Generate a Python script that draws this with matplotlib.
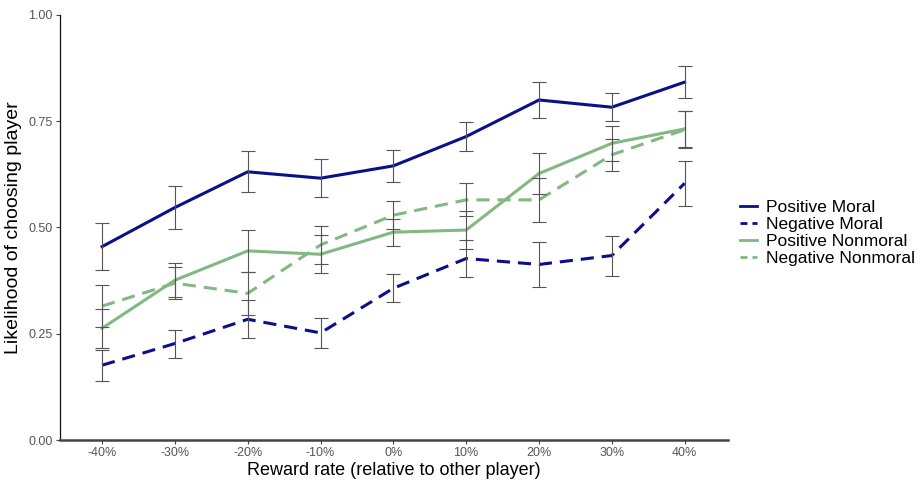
import matplotlib
matplotlib.use("Agg")
import matplotlib.pyplot as plt
from matplotlib.lines import Line2D
import numpy as np

plt.rcParams['font.family'] = ['Liberation Sans', 'DejaVu Sans']

categories = ["-40%", "-30%", "-20%", "-10%", "0%", "10%", "20%", "30%", "40%"]

pos_moral = [0.455, 0.547, 0.631, 0.616, 0.645, 0.714, 0.800, 0.783, 0.842]
pos_moral_err = [0.056, 0.050, 0.048, 0.044, 0.037, 0.035, 0.043, 0.033, 0.038]

neg_moral = [0.176, 0.227, 0.284, 0.252, 0.357, 0.427, 0.413, 0.434, 0.604]
neg_moral_err = [0.036, 0.033, 0.045, 0.035, 0.033, 0.044, 0.054, 0.047, 0.053]

pos_nonmoral = [0.263, 0.376, 0.445, 0.437, 0.489, 0.494, 0.627, 0.698, 0.732]
pos_nonmoral_err = [0.046, 0.040, 0.049, 0.045, 0.032, 0.045, 0.049, 0.041, 0.042]

neg_nonmoral = [0.315, 0.369, 0.345, 0.459, 0.529, 0.565, 0.565, 0.671, 0.730]
neg_nonmoral_err = [0.049, 0.038, 0.050, 0.045, 0.033, 0.039, 0.052, 0.037, 0.043]

series_names = ["Positive Moral", "Negative Moral", "Positive Nonmoral", "Negative Nonmoral"]

navy = "#0a0f8a"
green = "#82b882"
dash = (0, (4.3, 2.6))

fig = plt.figure(figsize=(9.21, 4.83), dpi=100)
ax = fig.add_axes([0.065, 0.089, 0.725, 0.880])

x = np.arange(len(categories))
series = [
    (pos_moral, pos_moral_err, navy, '-'),
    (neg_moral, neg_moral_err, navy, dash),
    (pos_nonmoral, pos_nonmoral_err, green, '-'),
    (neg_nonmoral, neg_nonmoral_err, green, dash),
]
handles = []
for (vals, errs, col, ls), name in zip(series, series_names):
    ax.plot(x, vals, color=col, linestyle=ls, linewidth=2.2, zorder=3)
    ax.errorbar(x, vals, yerr=errs, fmt='none', ecolor='#555555',
                elinewidth=0.8, capsize=5, capthick=0.8, zorder=4)
    handles.append(Line2D([0], [0], color=col,
                          linestyle='-' if ls == '-' else (0, (2.5, 1.8)),
                          linewidth=2.0))

ax.set_xlim(-0.58, 8.59)
ax.set_ylim(0, 1)
ax.set_xticks(x)
ax.set_xticklabels(categories)
ax.set_yticks([0, 0.25, 0.5, 0.75, 1.0])
ax.set_yticklabels(["0.00", "0.25", "0.50", "0.75", "1.00"])
ax.tick_params(axis='both', labelsize=9, colors='#444444', labelcolor='#555555',
               length=3, width=0.8, pad=2)

for s in ['top', 'right']:
    ax.spines[s].set_visible(False)
ax.spines['left'].set_color('#111111')
ax.spines['left'].set_linewidth(0.9)
ax.spines['bottom'].set_color('#444444')
ax.spines['bottom'].set_linewidth(1.8)

ax.set_xlabel("Reward rate (relative to other player)", fontsize=13, labelpad=2)
ax.set_ylabel("Likelihood of choosing player", fontsize=14, labelpad=5)

fig.legend(handles, series_names, loc='center left',
           bbox_to_anchor=(740 / 921, 1 - 233 / 483),
           frameon=False, fontsize=12.5, handlelength=1.0, handletextpad=0.5,
           labelspacing=0.1, borderpad=0, borderaxespad=0)

fig.savefig("out.png", dpi=100)
